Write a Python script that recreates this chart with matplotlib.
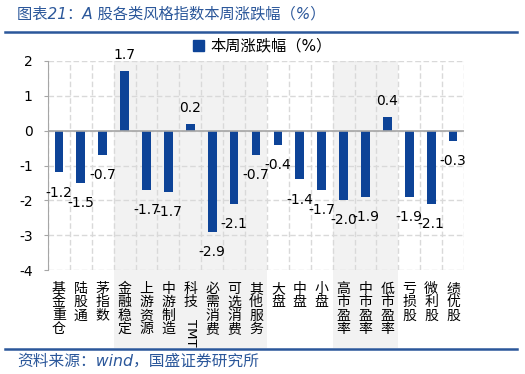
import matplotlib
matplotlib.use("Agg")
import matplotlib.pyplot as plt
from matplotlib.patches import Patch
from matplotlib.lines import Line2D
import numpy as np

plt.rcParams['font.family'] = ['DejaVu Sans', 'Noto Sans CJK SC']
plt.rcParams['axes.unicode_minus'] = False

# data
categories = ['基金重仓', '陆股通', '茅指数', '金融稳定', '上游资源', '中游制造', '科技TMT',
              '必需消费', '可选消费', '其他服务', '大盘', '中盘', '小盘', '高市盈率',
              '中市盈率', '低市盈率', '亏损股', '微利股', '绩优股']
weekly_change = [-1.2, -1.5, -0.7, 1.7, -1.7, -1.75, 0.2, -2.9, -2.1, -0.7,
                 -0.4, -1.4, -1.7, -2.0, -1.9, 0.4, -1.9, -2.1, -0.3]
value_labels = ['-1.2', '-1.5', '-0.7', '1.7', '-1.7', '-1.7', '0.2', '-2.9', '-2.1', '-0.7',
                '-0.4', '-1.4', '-1.7', '-2.0', '-1.9', '0.4', '-1.9', '-2.1', '-0.3']
shaded_groups = [(3, 9), (13, 15)]  # first and last category index of each grey block

bar_color = '#0D4397'
title_color = '#2B579A'

fig = plt.figure(figsize=(5.25, 3.74), dpi=100)
ax = fig.add_axes([48/525, 1 - 270/374, 416/525, 209/374])

x = np.arange(len(categories))
ax.bar(x, weekly_change, width=0.4, color=bar_color, zorder=3)

ax.set_xlim(-0.5, len(categories) - 0.5)
ax.set_ylim(-4, 2)
ax.set_yticks(range(-4, 3))
ax.set_xticks([])

# grey blocks behind groups, running down over the labels
for a, b in shaded_groups:
    ax.axvspan(a - 0.5, b + 0.5, ymin=-0.373, ymax=1, color='#F2F2F2',
               zorder=0, clip_on=False, lw=0)

# dashed grid
for k in range(len(categories) + 1):
    ax.axvline(k - 0.5, color='#D9D9D9', ls=(0, (4, 2)), lw=1, zorder=1)
for v in range(-4, 3):
    ax.axhline(v, color='#D9D9D9', ls=(0, (4, 2)), lw=1, zorder=1)
ax.axhline(0, color='#A6A6A6', lw=1.2, zorder=4)

for s in ['top', 'right', 'bottom']:
    ax.spines[s].set_visible(False)
ax.spines['left'].set_color('#A6A6A6')
ax.tick_params(axis='y', length=3, color='#A6A6A6', labelsize=10, pad=8)
ax.patch.set_alpha(0)

# value labels
for xi, v, lab in zip(x, weekly_change, value_labels):
    off = 11.5 if v > 0 else -14.5
    ax.annotate(lab, xy=(xi, v), xytext=(0, off), textcoords='offset points',
                ha='center', va='center', fontsize=10, zorder=5)

# vertical category labels
tr = ax.get_xaxis_transform()
for xi, name in zip(x, categories):
    if name == '科技TMT':
        chars = ['科', '技']
    else:
        chars = list(name)
    for k, ch in enumerate(chars):
        ax.annotate(ch, xy=(xi, 0), xycoords=tr, xytext=(0, -(19 + 13.3*k)*0.72),
                    textcoords='offset points', ha='center', va='center',
                    fontsize=10, family='Noto Sans CJK SC', annotation_clip=False)
    if name == '科技TMT':
        ax.annotate('TMT', xy=(xi, 0), xycoords=tr, xytext=(0, -63*0.72),
                    textcoords='offset points', ha='center', va='center',
                    fontsize=9.5, rotation=-90, annotation_clip=False)

# legend
handles = [Patch(color=bar_color)]
fig.legend(handles, ['本周涨跌幅（%）'], loc='center', bbox_to_anchor=(0.5, 1 - 46/374),
           frameon=False, fontsize=11, handlelength=0.7, handleheight=0.7,
           handletextpad=0.4)

# title, rules, source
fig.text(17/525, 1 - 14/374, '图表21：A 股各类风格指数本周涨跌幅（%）', color=title_color,
         fontsize=11, va='center', ha='left', style='italic')
fig.add_artist(Line2D([5/525, 517/525], [1 - 31.5/374]*2, color=title_color, lw=1.8))
fig.add_artist(Line2D([5/525, 517/525], [1 - 349/374]*2, color=title_color, lw=1.8))
fig.text(17/525, 1 - 361/374, '资料来源：wind，国盛证券研究所', color=title_color,
         fontsize=11.3, va='center', ha='left', style='italic')

fig.savefig('out.png', dpi=100)
